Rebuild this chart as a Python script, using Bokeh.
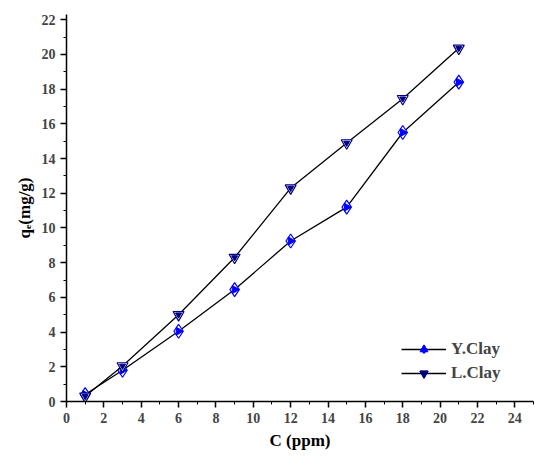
import math
from bokeh.plotting import figure
from bokeh.models import Legend, LegendItem, FixedTicker
from bokeh.embed import file_html
from bokeh.resources import INLINE

c = [1, 3, 6, 9, 12, 15, 18, 21]
y_clay = [0.4, 1.8, 4.05, 6.45, 9.25, 11.2, 15.5, 18.4]
l_clay = [0.3, 2.05, 5.0, 8.3, 12.3, 14.9, 17.45, 20.35]

p = figure(width=535, height=452, x_range=(0, 25), y_range=(0, 22.3),
           output_backend="svg", toolbar_location=None,
           x_axis_label="C (ppm)", y_axis_label="qₑ(mg/g)",
           min_border_left=66, min_border_right=2, min_border_top=14)
p.outline_line_color = None
p.grid.visible = False
for ax in (p.xaxis, p.yaxis):
    ax.axis_line_width = 1.5
    ax.major_tick_line_width = 1.5
    ax.major_tick_out = 6
    ax.major_tick_in = 0
    ax.minor_tick_out = 3
    ax.major_label_text_font = "Liberation Serif"
    ax.major_label_text_font_style = "bold"
    ax.major_label_text_font_size = "14px"
    ax.axis_label_text_font = "Liberation Serif"
    ax.axis_label_text_font_style = "bold"
    ax.axis_label_text_font_size = "17px"
    ax.axis_label_text_color = "black"

p.xaxis.ticker = FixedTicker(ticks=list(range(0, 25, 2)), minor_ticks=list(range(1, 26, 2)))
p.yaxis.ticker = FixedTicker(ticks=list(range(0, 23, 2)), minor_ticks=list(range(1, 23, 2)))

l1 = p.line(c, y_clay, color="black", line_width=1.3)
m1 = p.scatter(c, y_clay, marker="diamond", size=14, fill_color="white", line_color="blue", line_width=1.2)
m1b = p.scatter(c, y_clay, marker="triangle", angle=-math.pi / 2, size=8, fill_color="blue", line_color="blue")
l2 = p.line(c, l_clay, color="black", line_width=1.3)
m2 = p.scatter(c, l_clay, marker="inverted_triangle", size=11, fill_color="white", line_color="#000080", line_width=1.2)
m2b = p.scatter(c, l_clay, marker="inverted_triangle", size=6, fill_color="#000080", line_color="#000080")

legend = Legend(items=[LegendItem(label="Y.Clay", renderers=[l1, m1, m1b]),
                       LegendItem(label="L.Clay", renderers=[l2, m2, m2b])],
                location=(335, 18), border_line_color=None, background_fill_alpha=0,
                label_text_font="Liberation Serif", label_text_font_style="bold",
                label_text_font_size="17px", glyph_width=45, spacing=4)
p.add_layout(legend)

open("out.html", "w").write(file_html(p, INLINE))
